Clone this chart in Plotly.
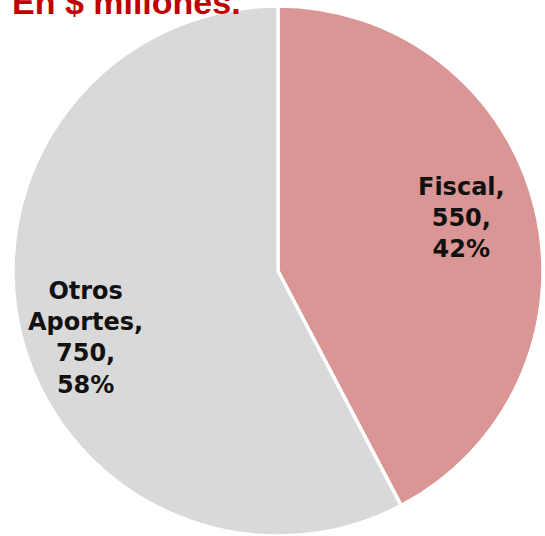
import math
import plotly.graph_objects as go

categories = ["Fiscal", "Otros<br>Aportes"]
values = [550, 750]
colors = ["#DA9694", "#D9D9D9"]
title_text = "En $ millones."

W, H = 545, 536
# pie geometry (paper fractions)
dom_x = [12.5 / W, 543.5 / W]
dom_y = [0, 1 - 6 / H]
label_r = 0.745  # label distance from centre, fraction of radius
label_nudge = [(-8, -6), (-1, 20)]  # best-fit style nudges in pixels

fig = go.Figure(go.Pie(
    labels=categories,
    values=values,
    sort=False,
    direction="clockwise",
    rotation=0,
    marker=dict(colors=colors, line=dict(color="white", width=3.5)),
    textinfo="none",
    domain=dict(x=dom_x, y=dom_y),
    showlegend=False,
    hoverinfo="label+value+percent",
))

# data labels placed along each slice bisector (Excel-like best fit)
total = sum(values)
cx = (dom_x[0] + dom_x[1]) / 2 * W
cy = (1 - (dom_y[0] + dom_y[1]) / 2) * H
R = min((dom_x[1] - dom_x[0]) * W, (dom_y[1] - dom_y[0]) * H) / 2
cum = 0
for (lab, v), (nx, ny) in zip(zip(categories, values), label_nudge):
    mid = (cum + v / 2) / total * 2 * math.pi
    cum += v
    px = cx + label_r * R * math.sin(mid) + nx
    py = cy - label_r * R * math.cos(mid) + ny
    pct = round(v / total * 100)
    fig.add_annotation(
        text=f"<b>{lab},<br>{v},<br>{pct}%</b>",
        xref="paper", yref="paper",
        x=px / W, y=1 - py / H,
        xanchor="center", yanchor="middle",
        showarrow=False,
        font=dict(family="DejaVu Sans", size=24, color="#111111"),
    )

fig.add_annotation(
    text="<b>" + title_text + "</b>",
    xref="paper", yref="paper",
    x=10 / W, y=1 - 23 / H,
    xanchor="left", yanchor="bottom",
    showarrow=False,
    font=dict(family="Liberation Sans", size=34, color="#C00000"),
)

fig.update_layout(
    width=W, height=H,
    margin=dict(l=0, r=0, t=0, b=0),
    paper_bgcolor="white",
    plot_bgcolor="white",
)

fig.write_html("out.html", config={"displayModeBar": False},
               post_script="document.body.style.margin='0';")
